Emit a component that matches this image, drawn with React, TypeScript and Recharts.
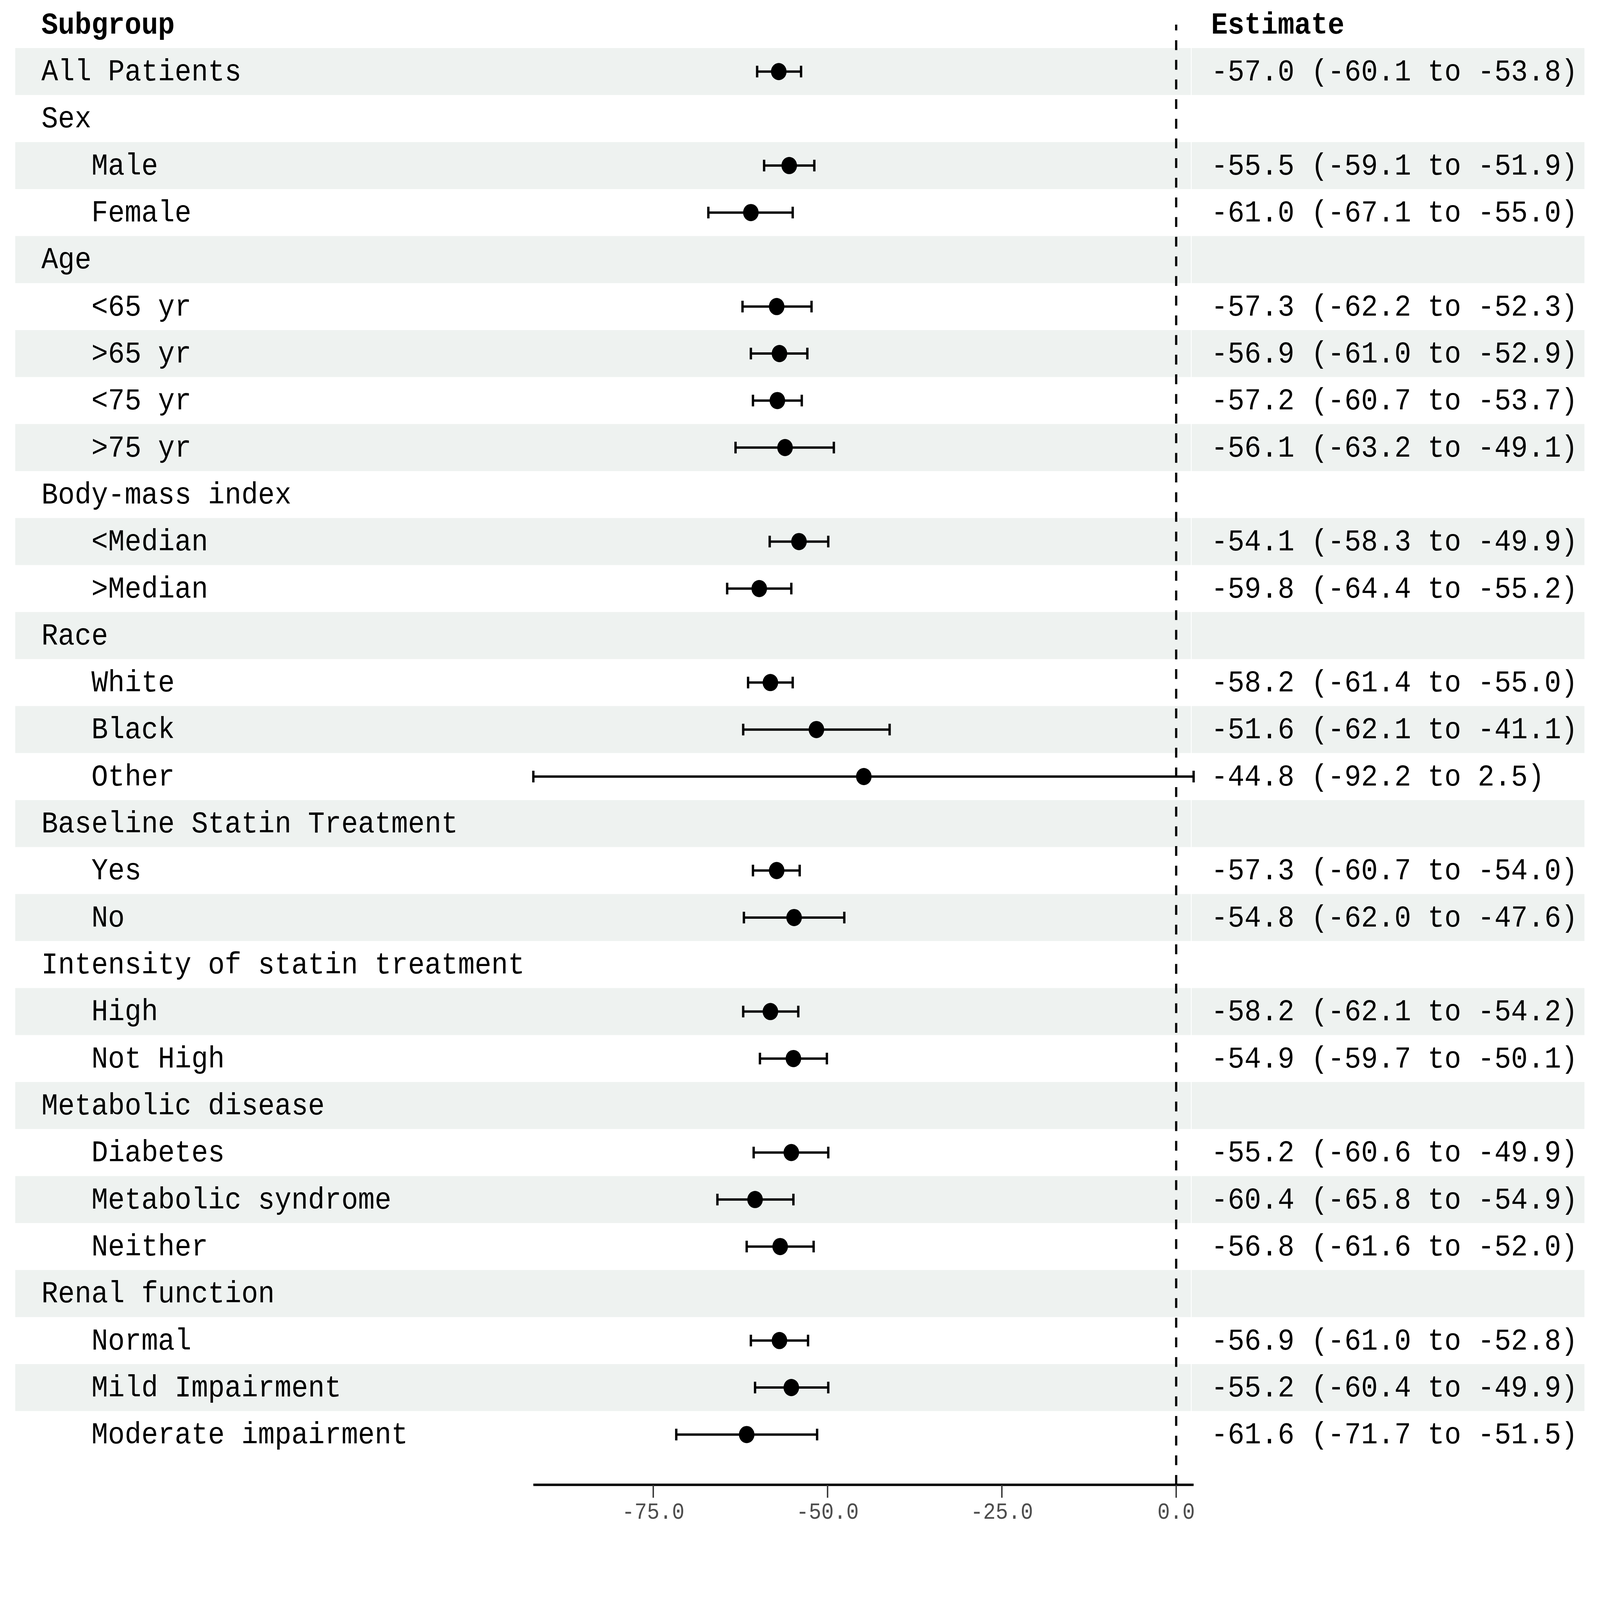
import React from 'react';
import { ScatterChart, Scatter, XAxis, YAxis, ErrorBar, ReferenceLine, ReferenceArea } from 'recharts';

// rows top to bottom; null estimate = group heading
const labels = [
  'All Patients', 'Sex', 'Male', 'Female', 'Age', '<65 yr', '>65 yr', '<75 yr', '>75 yr',
  'Body-mass index', '<Median', '>Median', 'Race', 'White', 'Black', 'Other',
  'Baseline Statin Treatment', 'Yes', 'No', 'Intensity of statin treatment', 'High', 'Not High',
  'Metabolic disease', 'Diabetes', 'Metabolic syndrome', 'Neither', 'Renal function',
  'Normal', 'Mild Impairment', 'Moderate impairment',
];
const indent = [0, 0, 1, 1, 0, 1, 1, 1, 1, 0, 1, 1, 0, 1, 1, 1, 0, 1, 1, 0, 1, 1, 0, 1, 1, 1, 0, 1, 1, 1];
const estimates = [
  -57.0, null, -55.5, -61.0, null, -57.3, -56.9, -57.2, -56.1, null, -54.1, -59.8, null,
  -58.2, -51.6, -44.8, null, -57.3, -54.8, null, -58.2, -54.9, null, -55.2, -60.4, -56.8,
  null, -56.9, -55.2, -61.6,
];
const lower = [
  -60.1, null, -59.1, -67.1, null, -62.2, -61.0, -60.7, -63.2, null, -58.3, -64.4, null,
  -61.4, -62.1, -92.2, null, -60.7, -62.0, null, -62.1, -59.7, null, -60.6, -65.8, -61.6,
  null, -61.0, -60.4, -71.7,
];
const upper = [
  -53.8, null, -51.9, -55.0, null, -52.3, -52.9, -53.7, -49.1, null, -49.9, -55.2, null,
  -55.0, -41.1, 2.5, null, -54.0, -47.6, null, -54.2, -50.1, null, -49.9, -54.9, -52.0,
  null, -52.8, -49.9, -51.5,
];
const xTicks = [-75, -50, -25, 0];

const FONT = "'Liberation Mono', 'Courier New', monospace";
// the browser page is 4096 x 4096, so the 5760 x 5210 layout is scaled to fill it
const W = 4096;
const H = 4096;
const SX = W / 5760;
const SY = H / 5210;
const PLOT_LEFT = 1920 * SX;
const PLOT_RIGHT = 4297 * SX;
const PLOT_TOP = 80 * SY;
const AXIS_Y = 4835 * SY;
const STRIPE = '#EEF2F0';

const points = estimates
  .map((e, i) => (e === null ? null : { x: e, y: i, err: [e - (lower[i] as number), (upper[i] as number) - e] }))
  .filter(Boolean);

const xMin = Math.min(...(lower.filter((v) => v !== null) as number[]));
const xMax = Math.max(...(upper.filter((v) => v !== null) as number[]));
const pxToX = (px: number) => xMin + ((px * SX - PLOT_LEFT) * (xMax - xMin)) / (PLOT_RIGHT - PLOT_LEFT);

const fmt = (v: number) => v.toFixed(1);

const Txt = ({ x, y, size = 100, bold = false, fill = '#000', anchor = 'start', children }: any) => (
  <text
    transform={`translate(${x},${y}) scale(${SX},${SY})`}
    fontFamily={FONT}
    fontSize={size}
    fontWeight={bold ? 'bold' : 'normal'}
    fill={fill}
    textAnchor={anchor}
  >
    {children}
  </text>
);

const RowTick = (props: any) => {
  const { y, payload } = props;
  const i = payload.value;
  const by = y + 29 * SY;
  if (i === -1) {
    return (
      <g>
        <Txt x={149 * SX} y={by} bold>Subgroup</Txt>
        <Txt x={4360 * SX} y={by} bold>Estimate</Txt>
      </g>
    );
  }
  const e = estimates[i];
  return (
    <g>
      <Txt x={(149 + indent[i] * 180) * SX} y={by}>{labels[i]}</Txt>
      {e !== null && (
        <Txt x={4360 * SX} y={by}>
          {`${fmt(e)} (${fmt(lower[i] as number)} to ${fmt(upper[i] as number)})`}
        </Txt>
      )}
    </g>
  );
};

const XTick = (props: any) => (
  <Txt x={props.x} y={AXIS_Y + 110 * SY} size={75} fill="#4D4D4D" anchor="middle">
    {fmt(props.payload.value)}
  </Txt>
);

const Dot = (props: any) => <ellipse cx={props.cx} cy={props.cy} rx={28 * SX} ry={28 * SY} fill="#000" />;

export default function App() {
  const rowTicks = [-1, ...labels.map((_, i) => i)];
  const stripes = labels.map((_, i) => i).filter((i) => i % 2 === 0);
  return (
    <div style={{ position: 'absolute', left: 0, top: 0, width: W, height: H, background: '#fff' }}>
      <ScatterChart
        width={W}
        height={H}
        margin={{ top: PLOT_TOP, right: W - PLOT_RIGHT, bottom: 0, left: 0 }}
      >
        {stripes.map((i) => (
          <ReferenceArea
            key={`l${i}`}
            x1={pxToX(55)}
            x2={pxToX(4287)}
            y1={i - 0.5}
            y2={i + 0.5}
            fill={STRIPE}
            fillOpacity={1}
            stroke="none"
            ifOverflow="visible"
          />
        ))}
        {stripes.map((i) => (
          <ReferenceArea
            key={`r${i}`}
            x1={pxToX(4290)}
            x2={pxToX(5704)}
            y1={i - 0.5}
            y2={i + 0.5}
            fill={STRIPE}
            fillOpacity={1}
            stroke="none"
            ifOverflow="visible"
          />
        ))}
        <XAxis
          type="number"
          dataKey="x"
          domain={[xMin, xMax]}
          allowDataOverflow
          ticks={xTicks}
          height={H - AXIS_Y}
          axisLine={{ stroke: '#000', strokeWidth: 8 * SY }}
          tickLine={{ stroke: '#333', strokeWidth: 5 * SX }}
          tickSize={42 * SY}
          tick={(p: any) => <XTick {...p} />}
        />
        <YAxis
          type="number"
          dataKey="y"
          domain={[-1, 30.07]}
          allowDataOverflow
          reversed
          width={PLOT_LEFT}
          ticks={rowTicks}
          interval={0}
          axisLine={false}
          tickLine={false}
          tick={(p: any) => <RowTick {...p} />}
        />
        <ReferenceLine
          x={0}
          segment={[{ x: 0, y: -1 }, { x: 0, y: 30.07 }]}
          stroke="#000"
          strokeWidth={8 * SX}
          strokeDasharray={`${32 * SY} ${32 * SY}`}
        />
        <Scatter data={points as any[]} shape={<Dot />} isAnimationActive={false}>
          <ErrorBar dataKey="err" direction="x" width={19 * SY} stroke="#000" strokeWidth={6} />
        </Scatter>
      </ScatterChart>
    </div>
  );
}
